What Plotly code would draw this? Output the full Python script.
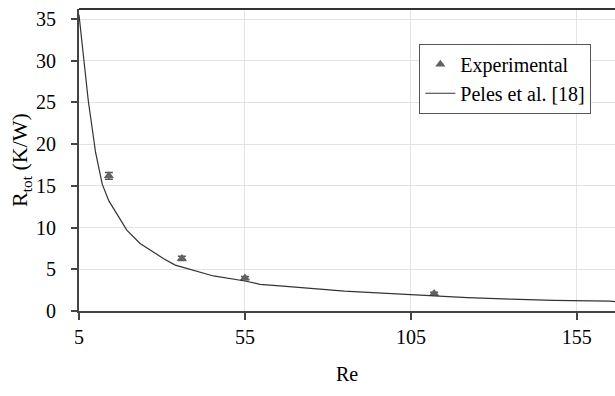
import plotly.graph_objects as go

# Experimental data
exp_re = [14, 36, 55, 112]
exp_r = [16.2, 6.3, 3.95, 2.1]
exp_err = [0.4, 0.25, 0.2, 0.15]

# Peles et al. [18] correlation
peles_re = [5, 7.8, 10, 12, 14, 19.4, 23.4, 30.4, 34, 45.5, 55, 59.5, 65.5, 71.6, 77.6, 85, 92.6, 101.7, 106, 122, 135, 148, 165, 167]
peles_r = [35.5, 25.2, 19.0, 15.2, 13.2, 9.7, 8.1, 6.3, 5.5, 4.2, 3.6, 3.2, 3.02, 2.78, 2.63, 2.39, 2.23, 2.07, 1.9, 1.6, 1.43, 1.28, 1.19, 1.1]

x_ticks = [5, 55, 105, 155]
y_ticks = [0, 5, 10, 15, 20, 25, 30, 35]

font_family = "Liberation Serif, Times New Roman, DejaVu Serif, serif"

fig = go.Figure()
fig.add_trace(go.Scatter(
    x=exp_re, y=exp_r, mode="markers", name="Experimental",
    marker=dict(symbol="triangle-up", size=9, color="#626262"),
    error_y=dict(type="data", array=exp_err, color="#555555", thickness=1.5, width=4),
))
fig.add_trace(go.Scatter(
    x=peles_re, y=peles_r, mode="lines", name="Peles et al. [18]",
    line=dict(color="#333333", width=1.2),
))

fig.update_layout(
    width=615, height=396,
    margin=dict(l=79, r=0, t=9, b=85),
    paper_bgcolor="white", plot_bgcolor="white",
    font=dict(family=font_family, size=20, color="black"),
    showlegend=True,
    legend=dict(
        x=0.635, y=0.885, xanchor="left", yanchor="top",
        bgcolor="white", bordercolor="#555555", borderwidth=1,
        font=dict(family=font_family, size=20, color="black"),
        tracegroupgap=2,
    ),
    xaxis=dict(
        range=[5, 166.5], tickvals=x_ticks, ticktext=[str(v) for v in x_ticks],
        showgrid=True, gridcolor="#e3e3e3", gridwidth=1,
        showline=True, linecolor="#444444", linewidth=2,
        ticks="outside", ticklen=7, tickcolor="#444444", tickwidth=1.5,
        zeroline=False,
        title=dict(text="Re", font=dict(family=font_family, size=20), standoff=20),
        tickfont=dict(family=font_family, size=20),
    ),
    yaxis=dict(
        range=[0, 36.2], tickvals=y_ticks,
        showgrid=True, gridcolor="#e3e3e3", gridwidth=1,
        showline=True, linecolor="#444444", linewidth=2,
        ticks="outside", ticklen=6, tickcolor="#444444", tickwidth=1.5,
        ticklabelstandoff=11,
        zeroline=False,
        title=dict(text="R<sub>tot</sub> (K/W)", font=dict(family=font_family, size=22), standoff=2),
        tickfont=dict(family=font_family, size=20),
    ),
    shapes=[dict(type="line", xref="paper", yref="paper", x0=0, x1=1, y0=1, y1=1,
                 line=dict(color="#333333", width=2))],
)

fig.write_html("out.html")
